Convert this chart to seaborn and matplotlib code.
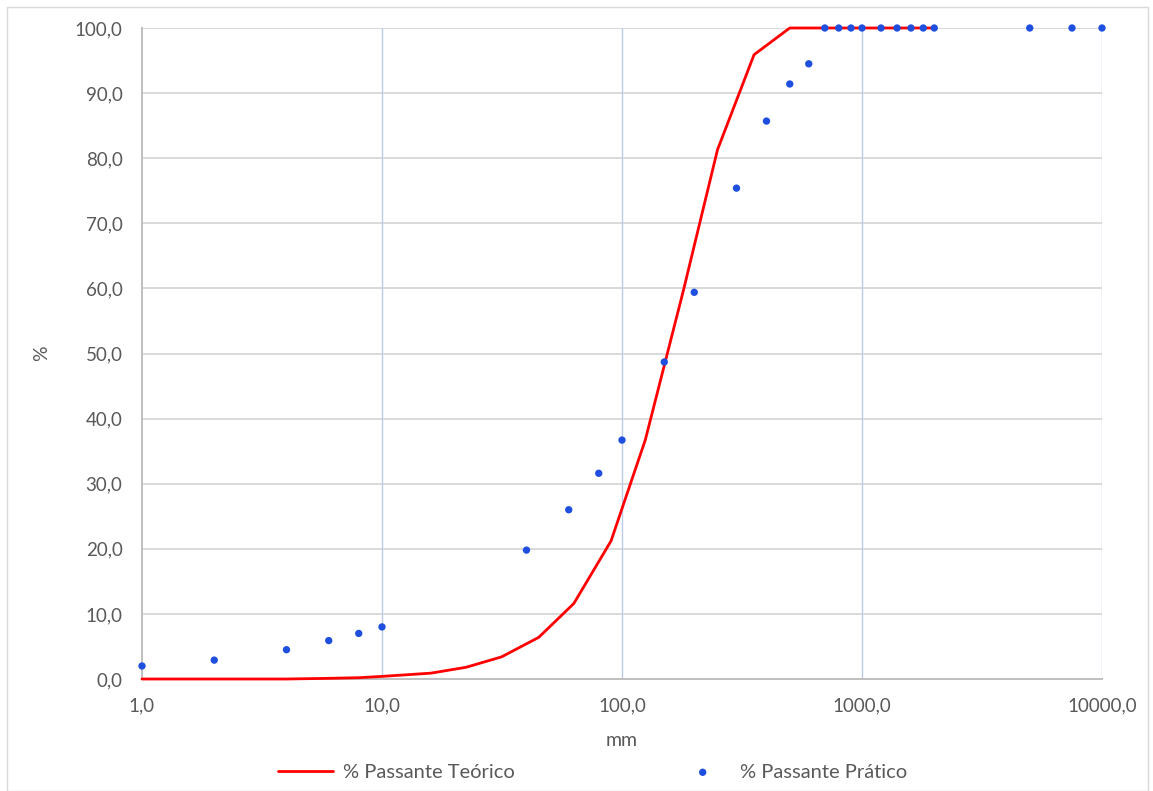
import matplotlib
matplotlib.use("Agg")
import matplotlib.pyplot as plt
from matplotlib.ticker import FuncFormatter, FixedLocator, NullLocator
from matplotlib.patches import Rectangle
import seaborn as sns
import pandas as pd

# Theoretical passing curve (sieve openings in mm, % passing)
teo_mm = [1, 2, 4, 6, 8, 10, 16, 22.4, 31.5, 45, 63, 90, 125, 180, 250, 355, 500, 700, 1000, 2000]
teo_pct = [0.0, 0.0, 0.0, 0.1, 0.2, 0.4, 0.9, 1.8, 3.4, 6.4, 11.6, 21.2, 36.7, 59.6, 81.3, 95.9, 100.0, 100.0, 100.0, 100.0]

# Measured passing points
pra_mm = [1, 2, 4, 6, 8, 10, 40, 60, 80, 100, 150, 200, 300, 400, 500, 600,
          700, 800, 900, 1000, 1200, 1400, 1600, 1800, 2000, 5000, 7500, 10000]
pra_pct = [2.0, 2.9, 4.5, 5.9, 7.0, 8.0, 19.8, 26.0, 31.6, 36.7, 48.7, 59.4, 75.4, 85.7, 91.4, 94.5,
           100.0, 100.0, 100.0, 100.0, 100.0, 100.0, 100.0, 100.0, 100.0, 100.0, 100.0, 100.0]

x_ticks = [1, 10, 100, 1000, 10000]
y_ticks = [0, 10, 20, 30, 40, 50, 60, 70, 80, 90, 100]

teo = pd.DataFrame({"mm": teo_mm, "pct": teo_pct})
pra = pd.DataFrame({"mm": pra_mm, "pct": pra_pct})

sns.set_theme(style="white")
plt.rcParams["font.family"] = ["Lato", "DejaVu Sans"]

fig = plt.figure(figsize=(11.53, 7.91), dpi=100)
ax = fig.add_axes([142 / 1153, 1 - 679 / 791, (1102 - 142) / 1153, (679 - 28) / 791])

ax.set_xscale("log")
ax.set_xlim(1, 10000)
ax.set_ylim(0, 100)

# grid: grey horizontals, light-blue verticals at each decade
for yv in y_ticks[1:]:
    ax.axhline(yv, color="#d9d9d9", lw=1.4, zorder=0)
for xv in x_ticks[1:]:
    ax.axvline(xv, color="#bccbe9", lw=1.0, zorder=0)

line_color = "#ff0000"
dot_color = "#1f4fdf"

sns.lineplot(data=teo, x="mm", y="pct", ax=ax, color=line_color, lw=2.0,
             label="% Passante Teórico", legend=False, zorder=3, clip_on=False)
sns.scatterplot(data=pra, x="mm", y="pct", ax=ax, color=dot_color, s=28,
                edgecolor="none", label="% Passante Prático", legend=False,
                zorder=4, clip_on=False)

for side in ["top", "right"]:
    ax.spines[side].set_visible(False)
ax.spines["left"].set_color("#bfbfbf")
ax.spines["left"].set_linewidth(1.4)
ax.spines["bottom"].set_color("#bfbfbf")
ax.spines["bottom"].set_linewidth(1.4)

ax.xaxis.set_major_locator(FixedLocator(x_ticks))
ax.xaxis.set_minor_locator(NullLocator())
ax.yaxis.set_major_locator(FixedLocator(y_ticks))
fmt = FuncFormatter(lambda v, p: f"{v:.1f}".replace(".", ","))
ax.xaxis.set_major_formatter(fmt)
ax.yaxis.set_major_formatter(fmt)
ax.tick_params(axis="both", length=0, labelsize=13.5, labelcolor="#595959")
ax.tick_params(axis="x", pad=13)
ax.tick_params(axis="y", pad=14)

ax.set_xlabel("mm", fontsize=14, color="#595959", labelpad=13)
ax.set_ylabel("%", fontsize=14, color="#595959", labelpad=18)

handles, labels = ax.get_legend_handles_labels()
leg = fig.legend(handles, labels, loc="center", bbox_to_anchor=(0.514, 0.024),
                 ncol=2, frameon=False, fontsize=14.5, columnspacing=8.0,
                 handlelength=2.7, handletextpad=0.5)
for t in leg.get_texts():
    t.set_color("#595959")

# chart area border
fig.patches.append(Rectangle((7 / 1153, 0.0), 1141 / 1153, 1 - 7 / 791,
                             transform=fig.transFigure, fill=False,
                             edgecolor="#d9d9d9", lw=1.0))

fig.savefig("out.png", dpi=100)
